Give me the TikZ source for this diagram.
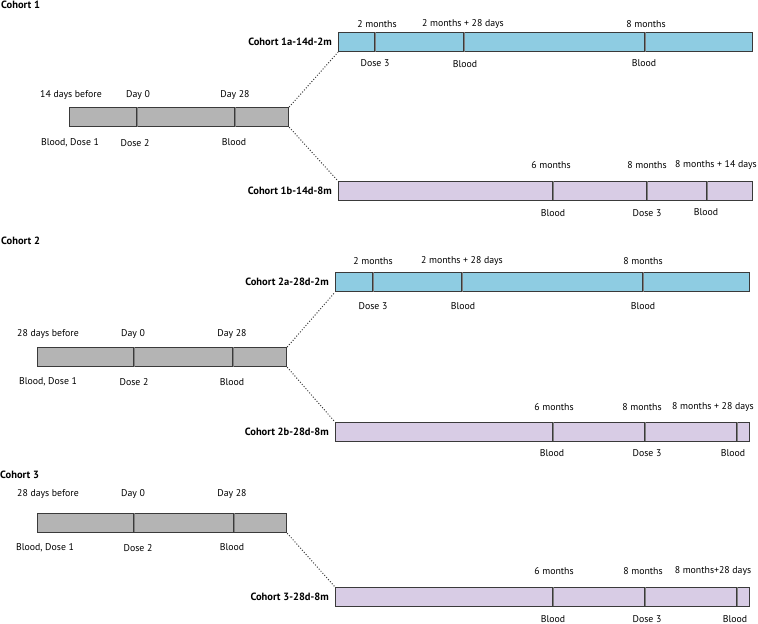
\documentclass[tikz,border=0pt]{standalone}
\usepackage{fontspec}
\setmainfont{PT Sans}
\usetikzlibrary{positioning}

\definecolor{barblue}{HTML}{8ECCE2}
\definecolor{barlilac}{HTML}{D8CCE5}
\definecolor{bargray}{HTML}{B4B4B4}
\definecolor{edge}{HTML}{3A3A3A}

\begin{document}
\begin{tikzpicture}[
		x=1pt, y=-1pt,
		bar/.style={draw=edge, line width=1.2pt, anchor=north west, inner sep=0pt, minimum height=19pt},
		graybar/.style={bar, fill=bargray},
		bluebar/.style={bar, fill=barblue},
		lilacbar/.style={bar, fill=barlilac},
		dosemark/.style={draw=edge, line width=0.9pt, double=gray, double distance=1pt},
		lbl/.style={font=\fontsize{9.8}{11}\selectfont, inner sep=0pt},
		cohort/.style={font=\fontsize{10.5}{12}\selectfont\bfseries, inner sep=0pt},
		link/.style={draw=edge, line width=1pt, dash pattern=on 1pt off 1.8pt},
	]
		\useasboundingbox (0,0) rectangle (758,624);
	
		% Cohort 1
		\node[cohort, anchor=west] (h1) at (1,5) {Cohort 1};
		\node[graybar, minimum width=219pt] (g1) at (69,107) {};
		\foreach \x in {137,235} \draw[dosemark] (\x,107) -- (\x,127);
		\node[lbl] (g1u1) at (71,95) {14 days before};
		\node[lbl] (g1u2) at (138,95) {Day 0};
		\node[lbl] (g1u3) at (235,95) {Day 28};
		\node[lbl] (g1d1) at (70,143) {Blood, Dose 1};
		\node[lbl] (g1d2) at (135,143) {Dose 2};
		\node[lbl] (g1d3) at (234,142) {Blood};
		
		\node[bluebar, minimum width=414pt] (c1a) at (338,32) {};
		\node[cohort, left=6pt of c1a] (n1a) {Cohort 1a-14d-2m};
		\foreach \x in {375,464,645} \draw[dosemark] (\x,32) -- (\x,52);
		\node[lbl] (c1au1) at (377,24) {2 months};
		\node[lbl] (c1au2) at (463,24) {2 months + 28 days};
		\node[lbl] (c1au3) at (646,24) {8 months};
		\node[lbl] (c1ad1) at (375,63) {Dose 3};
		\node[lbl] (c1ad2) at (465,64) {Blood};
		\node[lbl] (c1ad3) at (644,63) {Blood};
		
		\node[lilacbar, minimum width=414pt] (c1b) at (338,181) {};
		\node[cohort, left=6pt of c1b] (n1b) {Cohort 1b-14d-8m};
		\foreach \x in {553,647,707} \draw[dosemark] (\x,181) -- (\x,200);
		\node[lbl] (c1bu1) at (551,165) {6 months};
		\node[lbl] (c1bu2) at (647,165) {8 months};
		\node[lbl] (c1bu3) at (716,165) {8 months + 14 days};
		\node[lbl] (c1bd1) at (553,213) {Blood};
		\node[lbl] (c1bd2) at (647,213) {Dose 3};
		\node[lbl] (c1bd3) at (706,212) {Blood};
		
		\draw[link] (g1.north east) -- (c1a.south west);
		\draw[link] (g1.south east) -- (c1b.north west);
		
		% Cohort 2
		\node[cohort, anchor=west] (h2) at (1,241) {Cohort 2};
		\node[graybar, minimum width=249pt] (g2) at (37,347) {};
		\foreach \x in {134,233} \draw[dosemark] (\x,347) -- (\x,367);
		\node[lbl] (g2u1) at (48,334) {28 days before};
		\node[lbl] (g2u2) at (133,334) {Day 0};
		\node[lbl] (g2u3) at (232,334) {Day 28};
		\node[lbl] (g2d1) at (48,382) {Blood, Dose 1};
		\node[lbl] (g2d2) at (134,382) {Dose 2};
		\node[lbl] (g2d3) at (232,382) {Blood};
		
		\node[bluebar, minimum width=414pt] (c2a) at (335,272) {};
		\node[cohort, left=6pt of c2a] (n2a) {Cohort 2a-28d-2m};
		\foreach \x in {373,462,643} \draw[dosemark] (\x,272) -- (\x,292);
		\node[lbl] (c2au1) at (373,261) {2 months};
		\node[lbl] (c2au2) at (462,261) {2 months + 28 days};
		\node[lbl] (c2au3) at (643,261) {8 months};
		\node[lbl] (c2ad1) at (373,306) {Dose 3};
		\node[lbl] (c2ad2) at (463,306) {Blood};
		\node[lbl] (c2ad3) at (643,306) {Blood};
		
		\node[lilacbar, minimum width=414pt] (c2b) at (335,422) {};
		\node[cohort, left=6pt of c2b] (n2b) {Cohort 2b-28d-8m};
		\foreach \x in {553,645,737} \draw[dosemark] (\x,422) -- (\x,441);
		\node[lbl] (c2bu1) at (554,407) {6 months};
		\node[lbl] (c2bu2) at (642,407) {8 months};
		\node[lbl] (c2bu3) at (713,407) {8 months + 28 days};
		\node[lbl] (c2bd1) at (552,453) {Blood};
		\node[lbl] (c2bd2) at (647,453) {Dose 3};
		\node[lbl] (c2bd3) at (733,453) {Blood};
		
		\draw[link] (g2.north east) -- (c2a.south west);
		\draw[link] (g2.south east) -- (c2b.north west);
		
		% Cohort 3
		\node[cohort, anchor=west] (h3) at (0,475) {Cohort 3};
		\node[graybar, minimum width=249pt] (g3) at (37,513) {};
		\foreach \x in {134,234} \draw[dosemark] (\x,513) -- (\x,532);
		\node[lbl] (g3u1) at (48,494) {28 days before};
		\node[lbl] (g3u2) at (133,494) {Day 0};
		\node[lbl] (g3u3) at (232,494) {Day 28};
		\node[lbl] (g3d1) at (45,548) {Blood, Dose 1};
		\node[lbl] (g3d2) at (138,548) {Dose 2};
		\node[lbl] (g3d3) at (232,547) {Blood};
		
		\node[lilacbar, minimum width=414pt] (c3) at (335,587) {};
		\node[cohort, left=6pt of c3] (n3) {Cohort 3-28d-8m};
		\foreach \x in {553,645,737} \draw[dosemark] (\x,587) -- (\x,606);
		\node[lbl] (c3u1) at (554,571) {6 months};
		\node[lbl] (c3u2) at (643,571) {8 months};
		\node[lbl] (c3u3) at (713,571) {8 months+28 days};
		\node[lbl] (c3d1) at (553,619) {Blood};
		\node[lbl] (c3d2) at (647,619) {Dose 3};
		\node[lbl] (c3d3) at (735,619) {Blood};
		
		\draw[link] (g3.south east) -- (c3.north west);
	\end{tikzpicture}
\end{document}
